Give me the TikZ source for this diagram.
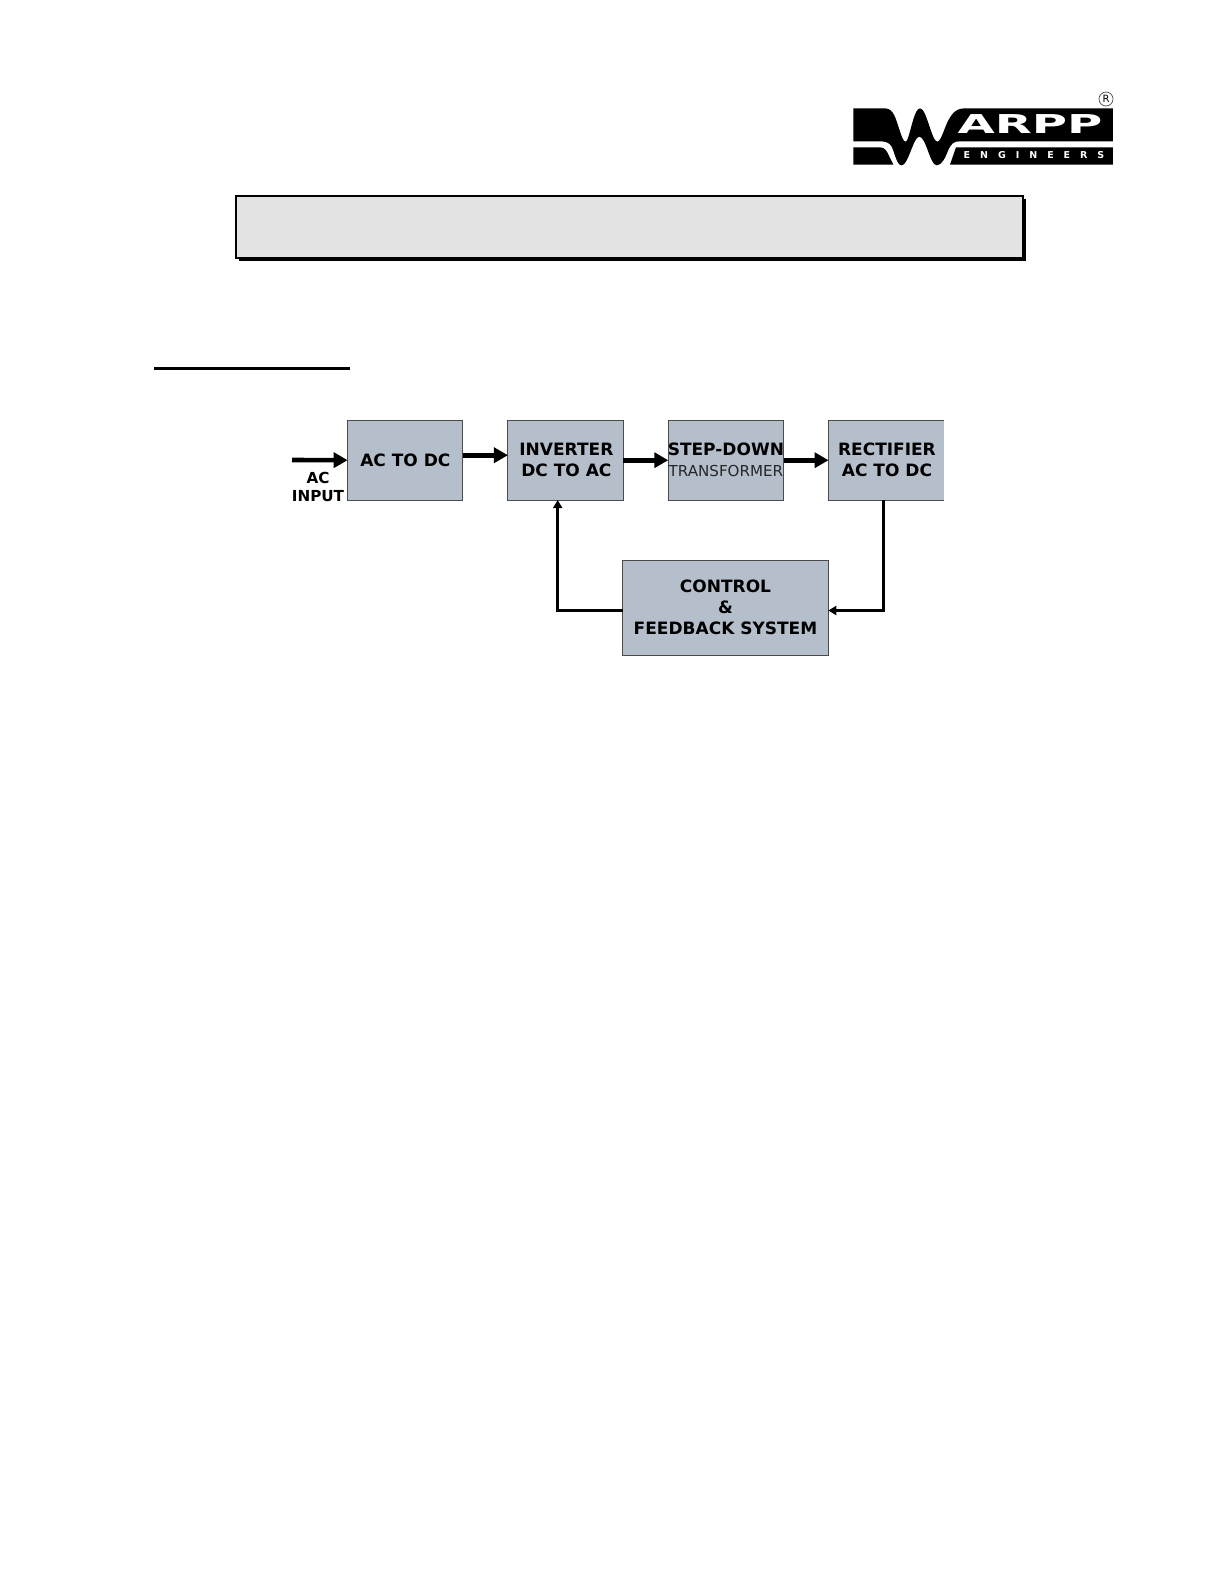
\documentclass[tikz,border=0pt]{standalone}
\usepackage{fontspec}
\setmainfont{DejaVu Sans}
\usetikzlibrary{positioning,arrows.meta,shadows}
\definecolor{boxfill}{HTML}{B5BECB}
\definecolor{boxline}{HTML}{4A4A4A}
\definecolor{headfill}{HTML}{E3E3E3}
\tikzset{
  blockbox/.style={rectangle,draw=boxline,fill=boxfill,line width=1pt,inner sep=0pt,outer sep=0pt,
    minimum width=115.3pt,minimum height=79.7pt,align=center,font=\bfseries\fontsize{17}{21}\selectfont},
  heavyarrow/.style={line width=4.6pt,-{Triangle[length=14pt,width=15pt]}},
  loopline/.style={line width=2.8pt,-{Triangle[length=8pt,width=9pt]}}
}
\begin{document}
\begin{tikzpicture}[x=1pt,y=-1pt]
  \useasboundingbox (0,0) rectangle (1225,1585);
  \begin{scope}[shift={(850,90)},x=0.3333pt,y=-0.3333pt]
    \fill[black] (10,55) -- (105,55) .. controls (132,55) and (138,90) .. (148,118)
      .. controls (155,140) and (160,155) .. (167,155)
      .. controls (178,155) and (190,55) .. (210,55)
      .. controls (230,55) and (245,155) .. (262,155)
      .. controls (275,155) and (285,100) .. (305,75)
      .. controls (315,60) and (330,55) .. (345,55)
      -- (789,55) -- (789,154) -- (330,154)
      .. controls (310,154) and (305,160) .. (295,180)
      .. controls (285,205) and (275,226) .. (260,226)
      .. controls (240,226) and (228,140) .. (208,140)
      .. controls (190,140) and (175,226) .. (155,226)
      .. controls (140,226) and (135,190) .. (125,170)
      .. controls (118,157) and (105,154) .. (90,154)
      -- (10,154) -- cycle;
    \fill[black] (10,172) -- (90,172) .. controls (105,172) and (112,185) .. (118,200)
      -- (130,224) -- (10,224) -- cycle;
    \fill[black] (318,172) -- (789,172) -- (789,224) -- (300,224) -- cycle;
  \end{scope}
  \node[white,inner sep=0pt,font=\bfseries\fontsize{26}{28}\selectfont] (logoname) at (1030,124) {\scalebox{1.85}[1]{ARPP}};
  \node[white,inner sep=0pt,font=\bfseries\fontsize{9.5}{10}\selectfont] (logosub) at (1034,155) {\addfontfeature{LetterSpace=105}ENGINEERS};
  \node[circle,draw=boxline,line width=0.7pt,inner sep=0.6pt,minimum size=14pt,font=\fontsize{10}{11}\selectfont] (logomark) at (1106,99) {R};

  \node[rectangle,draw=black,fill=headfill,line width=2pt,inner sep=0pt,minimum width=787pt,minimum height=62pt,
    drop shadow={shadow xshift=3pt,shadow yshift=-2.5pt,fill=black,opacity=1}] (headbox) at (629.5,227) {};
  \coordinate (ruleleft) at (154,368);
  \coordinate (ruleright) at (350,368);
  \draw[line width=3pt] (ruleleft) -- (ruleright);

  \node[blockbox] (actodc) at (405.3,460.2) {AC TO DC};
  \node[blockbox,right=45pt of actodc] (inverter) {\hspace*{1.5pt}INVERTER\\\hspace*{1.5pt}DC TO AC};
  \node[blockbox,right=45pt of inverter] (stepdown) {\makebox[0pt]{STEP-DOWN}\\\makebox[0pt]{\mdseries\fontsize{15.1}{19}\selectfont\color{black!85}TRANSFORMER}};
  \node[blockbox,draw=none,right=45pt of stepdown] (rectifier) {\hspace*{1.5pt}RECTIFIER\\\hspace*{1.5pt}AC TO DC};
  \node[blockbox,minimum width=205.6pt,minimum height=95pt] (control) at (725.5,607.8) {CONTROL\\\&\\FEEDBACK SYSTEM};
  \draw[boxline,line width=1pt] (rectifier.north east) -- (rectifier.north west)
    -- (rectifier.south west) -- (rectifier.south east);

  \node[inner sep=0pt,align=center,font=\bfseries\fontsize{15.2}{18}\selectfont] (aclabel) at (318,487) {AC\\INPUT};
  \coordinate (acin) at (292,460);
  \coordinate (fbleft) at (557.7,610.5);
  \coordinate (fbright) at (883.3,610.5);

  \draw[heavyarrow] (acin) -- (actodc.west);
  \draw[heavyarrow] ([yshift=5pt]actodc.east) -- ([yshift=5pt]inverter.west);
  \draw[heavyarrow] (inverter.east) -- (stepdown.west);
  \draw[heavyarrow] (stepdown.east) -- (rectifier.west);
  \draw[loopline] (fbright |- rectifier.south) -- (fbright) -- (control.east |- fbright);
  \draw[loopline] (control.west |- fbleft) -- (fbleft) -- (fbleft |- inverter.south);
\end{tikzpicture}
\end{document}
